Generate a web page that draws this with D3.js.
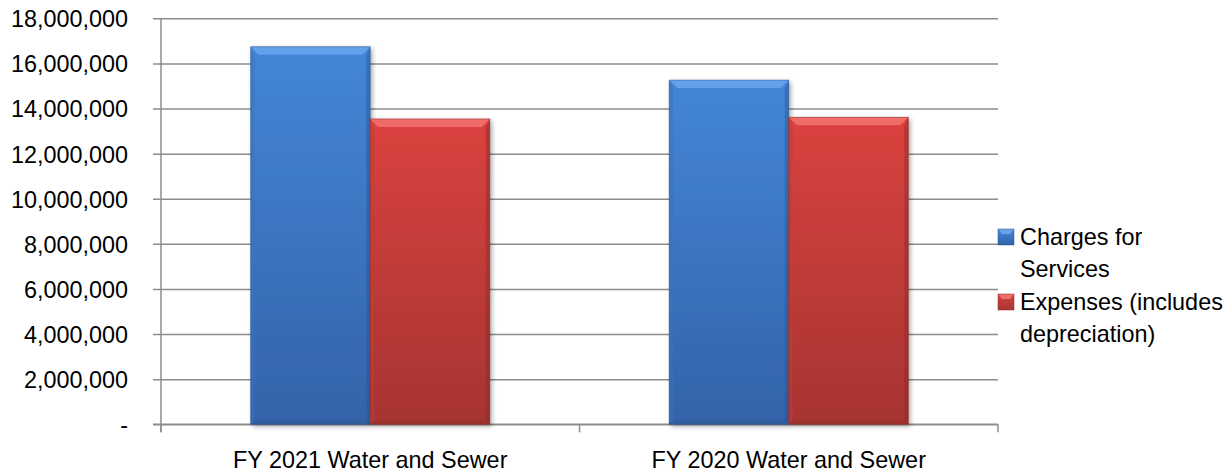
<!DOCTYPE html>
<html>
<head>
<meta charset="utf-8">
<script src="https://cdn.jsdelivr.net/npm/d3@7"></script>
<style>
  html, body { margin: 0; padding: 0; background: #fff; }
  svg { display: block; font-family: "Liberation Sans", Arial, sans-serif; }
</style>
</head>
<body>
<svg id="chart" width="1230" height="472"></svg>
<script>
// Fiscal-year water & sewer fund: revenue vs. expenses
const categories = ["FY 2021 Water and Sewer", "FY 2020 Water and Sewer"];
const seriesNames = ["Charges for Services", "Expenses (includes depreciation)"];
const chargesForServices = [16740000, 15260000];
const expenses = [13540000, 13610000];
const yTicks = [0, 2000000, 4000000, 6000000, 8000000, 10000000, 12000000, 14000000, 16000000, 18000000];
const legendLines = [["Charges for", "Services"], ["Expenses (includes", "depreciation)"]];

const seriesValues = [chargesForServices, expenses];
const palette = [
  { top: "#4386d8", bottom: "#3463a8", light: "#6aa6ee", dark: "#2d5590", side: "#3a72bd" },
  { top: "#da423f", bottom: "#a63431", light: "#f27370", dark: "#8a2a28", side: "#c03b38" }
];

const svg = d3.select("#chart");
const plotLeft = 161, plotRight = 998, plotTop = 18.3, plotBottom = 424.3;

const x = d3.scaleBand().domain(categories).range([plotLeft, plotRight]).paddingInner(0).paddingOuter(0);
const xs = d3.scaleBand().domain(seriesNames).range([0, x.bandwidth()]).paddingInner(0).paddingOuter(0.75);
const y = d3.scaleLinear().domain([0, 18000000]).range([plotBottom, plotTop]);

const defs = svg.append("defs");
palette.forEach((c, i) => {
  const g = defs.append("linearGradient").attr("id", "body" + i)
    .attr("x1", 0).attr("y1", 0).attr("x2", 0).attr("y2", 1);
  g.append("stop").attr("offset", "0%").attr("stop-color", c.top);
  g.append("stop").attr("offset", "100%").attr("stop-color", c.bottom);
});
const sh = defs.append("filter").attr("id", "shadow").attr("x", "-20%").attr("y", "-5%").attr("width", "140%").attr("height", "115%");
sh.append("feGaussianBlur").attr("in", "SourceAlpha").attr("stdDeviation", 2.5).attr("result", "b");
sh.append("feOffset").attr("in", "b").attr("dx", 2).attr("dy", 2).attr("result", "o");
sh.append("feComponentTransfer").attr("in", "o").attr("result", "s")
  .append("feFuncA").attr("type", "linear").attr("slope", 0.35);
const m = sh.append("feMerge");
m.append("feMergeNode").attr("in", "s");
m.append("feMergeNode").attr("in", "SourceGraphic");

// Gridlines and y axis
const yAxis = d3.axisLeft(y).tickValues(yTicks)
  .tickSize(-(plotRight - plotLeft))
  .tickSizeOuter(0)
  .tickFormat(d => d === 0 ? "-" : d3.format(",")(d));
const gy = svg.append("g").attr("transform", `translate(${plotLeft},0)`).call(yAxis);
gy.select(".domain").remove();
gy.selectAll(".tick line").attr("x1", -8).attr("stroke", "#8c8c8c").attr("stroke-width", 1.5);
gy.selectAll(".tick text").attr("x", -33).attr("dy", "0.36em")
  .attr("font-size", "23.4px").attr("fill", "#000");

// x axis with tick marks at band boundaries
const gx = svg.append("g").attr("transform", `translate(0,${plotBottom})`);
gx.append("line").attr("x1", plotLeft - 8).attr("x2", plotRight).attr("stroke", "#8c8c8c").attr("stroke-width", 1.5);
const bounds = [plotLeft].concat(categories.map(c => x(c) + x.bandwidth()));
gx.selectAll("line.tk").data(bounds).join("line").attr("class", "tk")
  .attr("x1", d => d).attr("x2", d => d).attr("y1", 0).attr("y2", 8)
  .attr("stroke", "#8c8c8c").attr("stroke-width", 1.5);
gx.selectAll("text").data(categories).join("text")
  .attr("x", d => x(d) + x.bandwidth() / 2).attr("y", 44)
  .attr("text-anchor", "middle").attr("font-size", "23.4px").attr("fill", "#000")
  .text(d => d);

// y axis line
svg.append("line").attr("x1", plotLeft).attr("x2", plotLeft).attr("y1", plotTop).attr("y2", plotBottom + 8)
  .attr("stroke", "#8c8c8c").attr("stroke-width", 1.5);

// Bevelled bars
const bars = [];
categories.forEach((cat, ci) => {
  seriesNames.forEach((s, si) => {
    bars.push({ cat, s, si, v: seriesValues[si][ci] });
  });
});
const bevel = 8;
const gb = svg.append("g");
bars.forEach(b => {
  const x0 = x(b.cat) + xs(b.s), w = xs.bandwidth();
  const x1 = x0 + w, y0 = y(b.v), y1 = y(0);
  const c = palette[b.si];
  const g = gb.append("g");
  g.append("rect").attr("x", x0).attr("y", y0).attr("width", w).attr("height", y1 - y0)
    .attr("fill", `url(#body${b.si})`).attr("filter", "url(#shadow)");
  // top facet
  g.append("polygon").attr("points", [[x0, y0], [x1, y0], [x1 - bevel, y0 + bevel], [x0 + bevel, y0 + bevel]].join(" "))
    .attr("fill", c.light).attr("opacity", 0.85);
  // left facet
  g.append("polygon").attr("points", [[x0, y0], [x0 + bevel * 0.5, y0 + bevel], [x0 + bevel * 0.5, y1 - 3], [x0, y1]].join(" "))
    .attr("fill", c.side).attr("opacity", 0.5);
  // right facet
  g.append("polygon").attr("points", [[x1, y0], [x1 - bevel * 0.5, y0 + bevel], [x1 - bevel * 0.5, y1 - 3], [x1, y1]].join(" "))
    .attr("fill", c.dark).attr("opacity", 0.45);
  // bottom facet
  g.append("polygon").attr("points", [[x0, y1], [x0 + 4, y1 - 4], [x1 - 4, y1 - 4], [x1, y1]].join(" "))
    .attr("fill", c.dark).attr("opacity", 0.35);
  g.append("rect").attr("x", x0).attr("y", y0).attr("width", w).attr("height", y1 - y0)
    .attr("fill", "none").attr("stroke", c.dark).attr("stroke-width", 0.8).attr("opacity", 0.6);
});

// Legend
const lg = svg.append("g");
const legendTop = [229, 294];
legendLines.forEach((lines, i) => {
  const c = palette[i];
  const ly = legendTop[i];
  lg.append("rect").attr("x", 998).attr("y", ly).attr("width", 16).attr("height", 16)
    .attr("fill", `url(#body${i})`);
  lg.append("polygon").attr("points", [[998, ly], [1014, ly], [1010, ly + 5], [1002, ly + 5]].join(" "))
    .attr("fill", c.light).attr("opacity", 0.9);
  lg.append("rect").attr("x", 998).attr("y", ly).attr("width", 16).attr("height", 16)
    .attr("fill", "none").attr("stroke", c.dark).attr("stroke-width", 0.8).attr("opacity", 0.6);
  lines.forEach((t, k) => {
    lg.append("text").attr("x", 1020).attr("y", ly + 16 + k * 32)
      .attr("font-size", "23.4px").attr("fill", "#000").text(t);
  });
});
</script>
</body>
</html>
